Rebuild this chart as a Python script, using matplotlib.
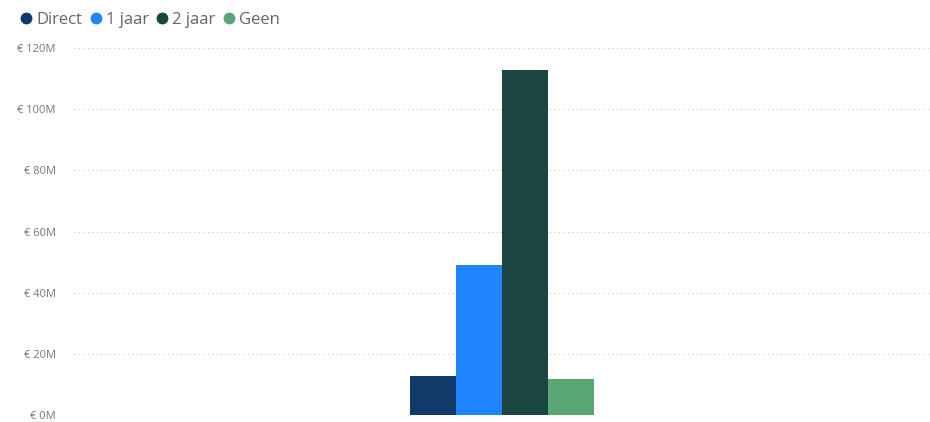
import numpy as np
import matplotlib.pyplot as plt
from matplotlib.ticker import FuncFormatter, MultipleLocator
from matplotlib.lines import Line2D

# data (in millions of euro)
series = ['Direct', '1 jaar', '2 jaar', 'Geen']
values = [12.7, 49.2, 112.8, 11.7]
colors = ['#113A6B', '#1E85FF', '#1B4540', '#5AA574']

plt.rcParams['font.family'] = ['Open Sans', 'DejaVu Sans']

fig = plt.figure(figsize=(9.3, 4.22), dpi=100)
ax = fig.add_axes([74 / 930, 7 / 422, 856 / 930, 367 / 422])

width = 0.0537
offsets = (np.arange(len(series)) - (len(series) - 1) / 2) * width
for off, val, col, name in zip(offsets, values, colors, series):
    ax.bar(off, val, width=width, color=col, label=name, zorder=3)

ax.set_xlim(-0.5, 0.5)
ax.set_ylim(0, 120)
ax.yaxis.set_major_locator(MultipleLocator(20))
ax.yaxis.set_major_formatter(FuncFormatter(lambda v, p: '€ %dM' % v))
ax.grid(axis='y', linestyle=(0, (1, 3)), color='#C8C8C8', linewidth=0.8, zorder=0)
ax.set_xticks([])
for s in ax.spines.values():
    s.set_visible(False)
ax.tick_params(axis='y', length=0, labelsize=8, labelcolor='#777777', pad=13)

handles = [Line2D([], [], marker='o', linestyle='', color=c, markersize=7.5) for c in colors]
fig.legend(handles, series, loc='center left', bbox_to_anchor=(8 / 930, 1 - 20 / 422),
           ncol=4, frameon=False, fontsize=12, labelcolor='#666666',
           handletextpad=0.0, columnspacing=0.2, handlelength=1.2, borderpad=0)

fig.savefig('out.png', dpi=100)
